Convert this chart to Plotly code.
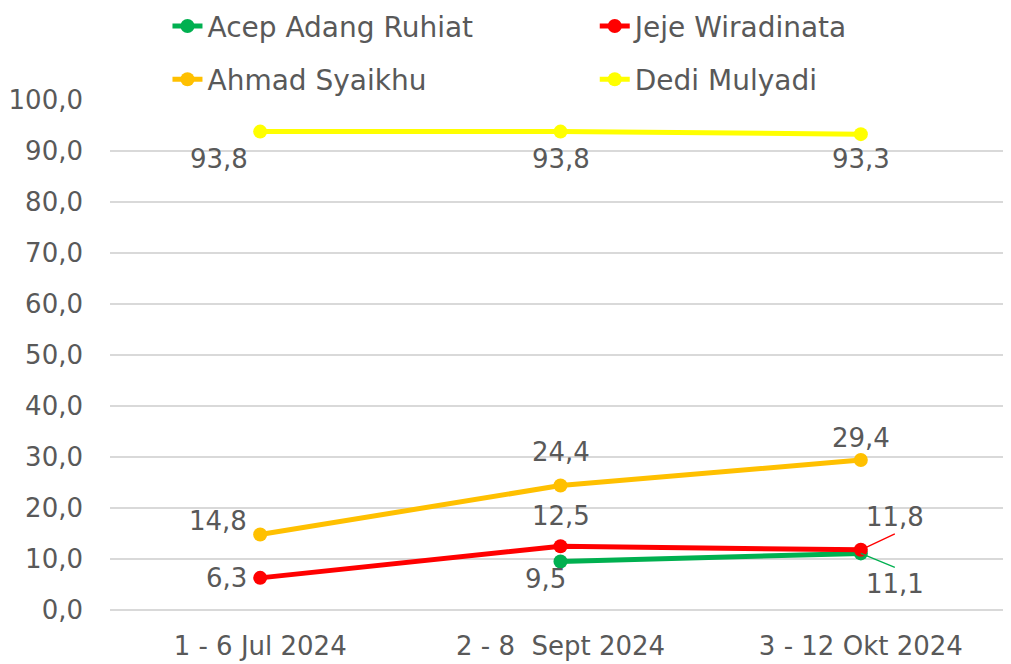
import plotly.graph_objects as go

# ── Data ──────────────────────────────────────────────────────────────────────
periods = ["1 - 6 Jul 2024", "2 - 8  Sept 2024", "3 - 12 Okt 2024"]
acep  = [None, 9.5, 11.1]
jeje  = [6.3, 12.5, 11.8]
ahmad = [14.8, 24.4, 29.4]
dedi  = [93.8, 93.8, 93.3]

y_ticks = [0, 10, 20, 30, 40, 50, 60, 70, 80, 90, 100]

TEXT = "#595959"
FONT = "DejaVu Sans, sans-serif"
GRID = "#d9d9d9"
FS = 26

series = [
    ("Acep Adang Ruhiat", acep, "#00b050", "legend"),
    ("Jeje Wiradinata", jeje, "#ff0000", "legend2"),
    ("Ahmad Syaikhu", ahmad, "#ffc000", "legend3"),
    ("Dedi Mulyadi", dedi, "#ffff00", "legend4"),
]

fig = go.Figure()
for name, vals, colour, leg in series:
    fig.add_trace(go.Scatter(
        x=periods, y=vals, name=name, mode="lines+markers",
        line=dict(color=colour, width=5),
        marker=dict(color=colour, size=14),
        legend=leg, showlegend=True,
    ))


def fmt(v):
    return f"{v:.1f}".replace(".", ",")


# label offsets (px) per series/point
offsets = {
    "Dedi Mulyadi": [(-41, -27), (0, -27), (0, -25)],
    "Ahmad Syaikhu": [(-42, 14), (0, 34), (0, 22)],
    "Jeje Wiradinata": [(-34, 0), (0, 30), None],
    "Acep Adang Ruhiat": [None, (-15, -17), None],
}
for name, vals, colour, leg in series:
    for i, v in enumerate(vals):
        if v is None or offsets[name][i] is None:
            continue
        dx, dy = offsets[name][i]
        fig.add_annotation(x=periods[i], y=v, text=fmt(v), showarrow=False,
                           xshift=dx, yshift=dy,
                           font=dict(family=FONT, size=FS, color=TEXT))

# leader-line labels at the last point
fig.add_annotation(x=periods[2], y=jeje[2], text=fmt(jeje[2]), showarrow=True,
                   arrowhead=0, arrowwidth=1.3, arrowcolor="#ff0000",
                   ax=34, ay=-16, xanchor="center", yanchor="bottom",
                   font=dict(family=FONT, size=FS, color=TEXT))
fig.add_annotation(x=periods[2], y=acep[2], text=fmt(acep[2]), showarrow=True,
                   arrowhead=0, arrowwidth=1.3, arrowcolor="#00b050",
                   ax=34, ay=14, xanchor="center", yanchor="top",
                   font=dict(family=FONT, size=FS, color=TEXT))

legend_common = dict(
    orientation="h", xanchor="left", yanchor="middle",
    xref="container", yref="container",
    bgcolor="rgba(0,0,0,0)",
    font=dict(family=FONT, size=28, color=TEXT),
)
col_x = [0.159, 0.585]
row_y = [0.972, 0.891]

# page body has an 8px margin, so the figure is sized to fit inside it
fig.update_layout(
    width=1003, height=656,
    paper_bgcolor="white", plot_bgcolor="white",
    separators=",.",
    showlegend=True,
    margin=dict(l=102, r=0, t=92, b=54, autoexpand=False),
    font=dict(family=FONT, size=FS, color=TEXT),
    legend=dict(**legend_common, x=col_x[0], y=row_y[0]),
    legend2=dict(**legend_common, x=col_x[1], y=row_y[0]),
    legend3=dict(**legend_common, x=col_x[0], y=row_y[1]),
    legend4=dict(**legend_common, x=col_x[1], y=row_y[1]),
    xaxis=dict(
        range=[-0.5, 2.5],
        showgrid=False, showline=False, ticks="",
        tickfont=dict(family=FONT, size=FS, color=TEXT),
        ticklabelstandoff=18, automargin=False,
    ),
    yaxis=dict(
        range=[0, 100], tickvals=y_ticks, tickformat=".1f",
        showgrid=True, gridcolor=GRID, gridwidth=1.5,
        zeroline=True, zerolinecolor=GRID, zerolinewidth=1.5,
        showline=False, ticks="",
        tickfont=dict(family=FONT, size=FS, color=TEXT),
        ticklabelstandoff=26, automargin=False,
    ),
)

fig.write_html("out.html")
